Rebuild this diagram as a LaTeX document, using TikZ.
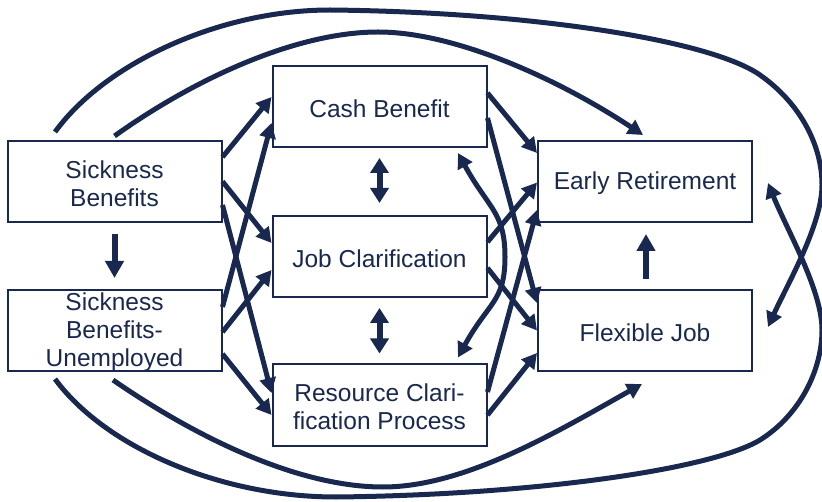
\documentclass[tikz,border=0pt]{standalone}
\usepackage{fontspec}
\setmainfont{Liberation Sans}
\usetikzlibrary{arrows.meta,calc}
\definecolor{navy}{RGB}{25,40,78}
\begin{document}
\begin{tikzpicture}[x=1pt,y=-1pt,
  box/.style={draw=navy,line width=2pt,minimum width=214pt,minimum height=81pt,inner sep=0pt},
  txt/.style={text=navy,align=center,font=\fontsize{24.5}{28}\selectfont,inner sep=0pt,yshift=-2pt},
  arr/.style={draw=navy,line width=5pt,-{Triangle[length=15pt,width=16pt]}},
  varr/.style={draw=navy,line width=6pt,-{Triangle[length=17pt,width=18pt]}},
  darr/.style={draw=navy,line width=6pt,{Triangle[length=15pt,width=18pt]}-{Triangle[length=15pt,width=18pt]}},
  carr/.style={draw=navy,line width=5pt,-{Triangle[length=15pt,width=16pt]}},
  cdarr/.style={draw=navy,line width=5pt,{Triangle[length=15pt,width=16pt]}-{Triangle[length=15pt,width=16pt]}}]
\useasboundingbox (0,0) rectangle (822,502);
\node[box,label={[txt]center:{Sickness\\Benefits}}] (SB) at (114.5,181.5) {};
\node[box,label={[txt]center:{Sickness\\Benefits-\\Unemployed}}] (SBU) at (114.5,330.5) {};
\node[box,label={[txt]center:{Cash Benefit}}] (CB) at (379.5,106.5) {};
\node[box,label={[txt]center:{Job Clarification}}] (JC) at (379.5,256.5) {};
\node[box,label={[txt]center:{Resource Clari-\\fication Process}}] (RC) at (379.5,405) {};
\node[box,label={[txt]center:{Early Retirement}}] (ER) at (645,181.5) {};
\node[box,label={[txt]center:{Flexible Job}}] (FJ) at (645,330.5) {};
% left fan
\draw[arr] ([yshift=24.5pt]SB.east) -- ([yshift=9.5pt]CB.west);
\draw[arr] ([yshift=0pt]SB.east) -- ([yshift=13.5pt]JC.west);
\draw[arr] ([yshift=-23.5pt]SB.east) -- ([yshift=12pt]RC.west);
\draw[arr] ([yshift=23.5pt]SBU.east) -- ([yshift=-16.5pt]CB.west);
\draw[arr] ([yshift=-1.5pt]SBU.east) -- ([yshift=-13.5pt]JC.west);
\draw[arr] ([yshift=-23.5pt]SBU.east) -- ([yshift=-10pt]RC.west);
% right fan
\draw[arr] ([yshift=13.5pt]CB.east) -- ([yshift=28.5pt]ER.west);
\draw[arr] ([yshift=-11.5pt]CB.east) -- ([yshift=27.5pt]FJ.west);
\draw[arr] ([yshift=14.5pt]JC.east) -- ([yshift=-1pt]ER.west);
\draw[arr] ([yshift=-11.5pt]JC.east) -- ([yshift=0pt]FJ.west);
\draw[arr] ([yshift=13pt]RC.east) -- ([yshift=-28.5pt]ER.west);
\draw[arr] ([yshift=-10pt]RC.east) -- ([yshift=-22.5pt]FJ.west);
% vertical
\draw[varr] ([yshift=-11pt]SB.south) -- ([yshift=11pt]SBU.north);
\draw[varr] ([xshift=1pt,yshift=10pt]FJ.north) -- ([xshift=1pt,yshift=-11pt]ER.south);
\draw[darr] ([yshift=-10pt]CB.south) -- ([yshift=12pt]JC.north);
\draw[darr] ([yshift=-10pt]JC.south) -- ([yshift=10pt]RC.north);
% curved double arrow
\draw[cdarr] ([xshift=78.5pt,yshift=-5pt]CB.south) .. controls +(30,55) and +(0,-45) .. (505,257)
  .. controls +(0,45) and +(30,-55) .. ([xshift=78.5pt,yshift=6pt]RC.north);
% inner curves
\draw[carr] ([yshift=4pt]SB.north) .. controls (200,75) and (300,32) .. (378,32)
  .. controls (456,32) and (560,80) .. ([xshift=-2pt,yshift=5pt]ER.north);
\draw[carr] ([xshift=-1.5pt,yshift=-8pt]SBU.south) .. controls (200,440) and (300,487) .. (383,487)
  .. controls (466,487) and (560,430) .. ([xshift=-3pt,yshift=-12pt]FJ.south);
% outer curves
\draw[carr] ([xshift=-59.5pt,yshift=8pt]SB.north) .. controls (105,63) and (220,10) .. (330,10)
  .. controls (530,12) and (710,40) .. (760,75)
  .. controls (800,103) and (822,145) .. (822,185)
  .. controls (822,225) and (787,285) .. ([xshift=15pt,yshift=3.5pt]FJ.east);
\draw[carr] ([xshift=-59.5pt,yshift=-7pt]SBU.south) .. controls (105,447) and (220,497) .. (336,497)
  .. controls (530,495) and (710,470) .. (760,440)
  .. controls (800,415) and (822,370) .. (822,330)
  .. controls (822,290) and (787,230) .. ([xshift=15pt,yshift=-1.5pt]ER.east);
\end{tikzpicture}
\end{document}
